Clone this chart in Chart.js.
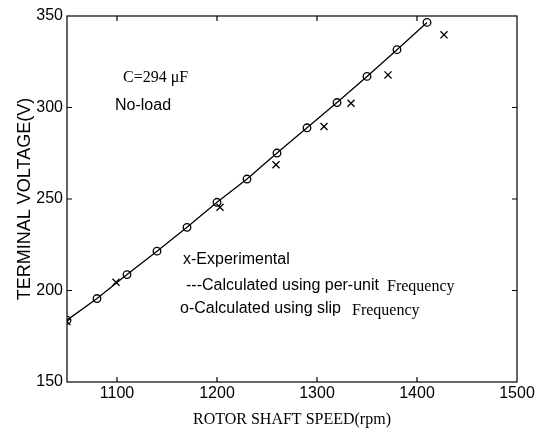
<!DOCTYPE html>
<html lang="en">
<head>
  <meta charset="UTF-8">
  <title>Terminal voltage vs rotor speed</title>
  <script src="https://cdn.jsdelivr.net/npm/chart.js"></script>
  <style>
    body { margin: 0; background: #fff; }
    #wrap { width: 542px; height: 429px; }
  </style>
</head>
<body>
  <div id="wrap">
    <canvas id="grafik" width="542" height="429"></canvas>
  </div>

  <script>
    // data
    const speedCalc = [1050, 1080, 1110, 1140, 1170, 1200, 1230, 1260, 1290, 1320, 1350, 1380, 1410];
    const voltPerUnit = [183.8, 195.6, 208.7, 221.5, 234.5, 248.2, 260.9, 275.1, 288.9, 302.7, 317.0, 331.6, 346.5];
    const voltSlip = [183.8, 195.6, 208.7, 221.5, 234.5, 248.2, 260.9, 275.1, 288.9, 302.7, 317.0, 331.6, 346.5];

    const speedExp = [1050, 1099, 1203, 1259, 1307, 1334, 1371, 1427];
    const voltExp = [183, 204.5, 245.5, 268.7, 289.6, 302.3, 317.8, 339.7];

    const xTicks = [1100, 1200, 1300, 1400, 1500];
    const yTicks = [150, 200, 250, 300, 350];

    const pts = (xs, ys) => xs.map((x, i) => ({ x: x, y: ys[i] }));

    const SANS = "'Liberation Sans', Arial, sans-serif";
    const SERIF = "'Liberation Serif', 'Times New Roman', serif";

    // box around the plot + inward tick marks (matlab look)
    const kotak = {
      id: 'kotak',
      afterDatasetsDraw(chart) {
        const { ctx, chartArea: a, scales } = chart;
        ctx.save();
        ctx.strokeStyle = '#000';
        ctx.lineWidth = 1.2;
        ctx.strokeRect(a.left, a.top, a.right - a.left, a.bottom - a.top);
        const len = 5;
        ctx.beginPath();
        xTicks.slice(0, -1).forEach(v => {
          const px = scales.x.getPixelForValue(v);
          ctx.moveTo(px, a.bottom); ctx.lineTo(px, a.bottom - len);
          ctx.moveTo(px, a.top); ctx.lineTo(px, a.top + len);
        });
        yTicks.slice(1, -1).forEach(v => {
          const py = scales.y.getPixelForValue(v);
          ctx.moveTo(a.left, py); ctx.lineTo(a.left + len, py);
          ctx.moveTo(a.right, py); ctx.lineTo(a.right - len, py);
        });
        ctx.stroke();
        ctx.restore();
      }
    };

    // text notes inside the plot
    const catatan = {
      id: 'catatan',
      afterDraw(chart) {
        const ctx = chart.ctx;
        ctx.save();
        ctx.fillStyle = '#000';
        ctx.textBaseline = 'alphabetic';
        ctx.textAlign = 'left';
        const tulis = (t, x, y, f) => { ctx.font = f; ctx.fillText(t, x, y); };
        tulis('C=294 \u03BCF', 123, 82, '16px ' + SERIF);
        tulis('No-load', 115, 110, '16px ' + SANS);
        tulis('x-Experimental', 183, 264, '16px ' + SANS);
        tulis('---Calculated using per-unit', 186, 290, '16px ' + SANS);
        tulis('Frequency', 387, 291, '16px ' + SERIF);
        tulis('o-Calculated using slip', 180, 313, '16px ' + SANS);
        tulis('Frequency', 352, 315, '16px ' + SERIF);
        ctx.restore();
      }
    };

    const ctx = document.getElementById('grafik').getContext('2d');
    const chart = new Chart(ctx, {
      type: 'scatter',
      data: {
        datasets: [
          {
            label: 'Calculated using per-unit Frequency',
            data: pts(speedCalc, voltPerUnit),
            showLine: true,
            borderColor: '#000',
            borderWidth: 1.3,
            pointRadius: 0,
            tension: 0
          },
          {
            label: 'Calculated using slip Frequency',
            data: pts(speedCalc, voltSlip),
            pointStyle: 'circle',
            pointRadius: 3.8,
            borderColor: '#000',
            borderWidth: 1.3,
            backgroundColor: 'rgba(0,0,0,0)'
          },
          {
            label: 'Experimental',
            data: pts(speedExp, voltExp),
            pointStyle: 'crossRot',
            pointRadius: 5,
            borderColor: '#000',
            borderWidth: 1.3
          }
        ]
      },
      options: {
        responsive: false,
        animation: false,
        layout: { padding: { top: 16, right: 25, left: 0, bottom: 0 } },
        plugins: {
          legend: { display: false },
          tooltip: { enabled: false }
        },
        scales: {
          x: {
            type: 'linear',
            min: 1050,
            max: 1500,
            grid: { display: false, drawTicks: false },
            border: { display: false },
            afterBuildTicks: s => { s.ticks = xTicks.map(v => ({ value: v })); },
            afterFit: s => { s.height = 47; },
            ticks: {
              color: '#000',
              padding: 2,
              maxRotation: 0,
              autoSkip: false,
              font: { family: SANS, size: 16 },
              callback: v => String(v)
            },
            title: {
              display: true,
              text: 'ROTOR SHAFT SPEED(rpm)',
              color: '#000',
              padding: { top: 0, bottom: 0 },
              font: { family: SERIF, size: 16 }
            }
          },
          y: {
            min: 150,
            max: 350,
            grid: { display: false, drawTicks: false },
            border: { display: false },
            afterBuildTicks: s => { s.ticks = yTicks.map(v => ({ value: v })); },
            afterFit: s => { s.width = 67; },
            ticks: {
              color: '#000',
              padding: 4,
              font: { family: SANS, size: 16 },
              callback: v => String(v)
            },
            title: {
              display: true,
              text: 'TERMINAL VOLTAGE(V)',
              color: '#000',
              padding: { top: 14, bottom: 0 },
              font: { family: SANS, size: 18 }
            }
          }
        }
      },
      plugins: [kotak, catatan]
    });
  </script>
</body>
</html>
